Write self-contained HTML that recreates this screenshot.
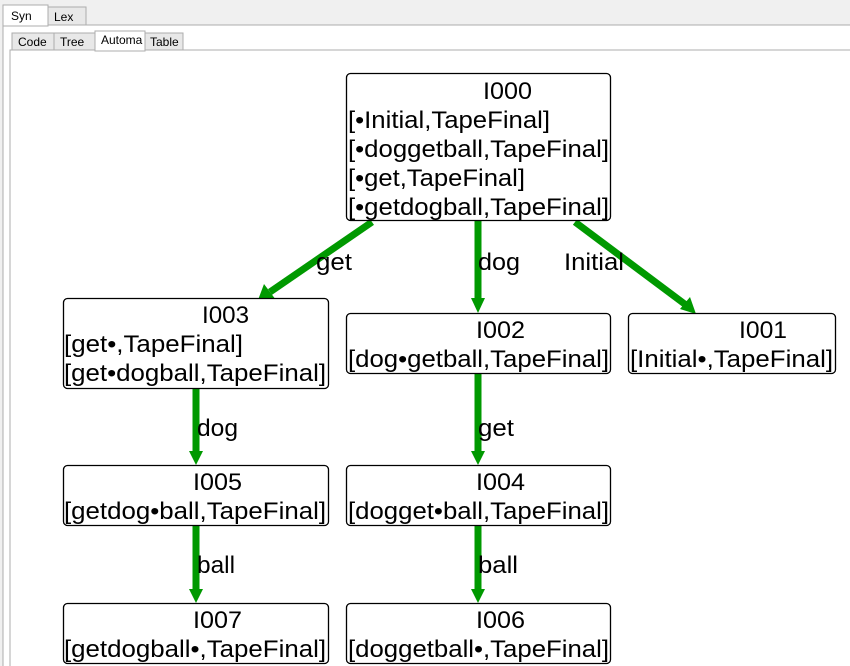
<!DOCTYPE html>
<html><head><style>
html,body{margin:0;padding:0;width:850px;height:666px;overflow:hidden;background:#f0f0f0;font-family:"Liberation Sans",sans-serif}
svg{display:block}
</style></head><body>
<svg width="850" height="666" xmlns="http://www.w3.org/2000/svg" font-family="Liberation Sans, sans-serif">
<rect x="0" y="0" width="850" height="666" fill="#f0f0f0"/>
<rect x="3" y="25" width="850" height="660" fill="#fff" stroke="#adadad"/>
<rect x="48" y="7" width="38" height="18" fill="#e8e8e8" stroke="#adadad"/>
<rect x="3" y="5" width="45" height="21" fill="#fff" stroke="#adadad"/>
<line x1="4" y1="25" x2="47" y2="25" stroke="#fff"/>
<text x="11" y="20" font-size="12">Syn</text>
<text x="54" y="21" font-size="12">Lex</text>
<rect x="10" y="50" width="850" height="630" fill="#fff" stroke="#adadad"/>
<rect x="12" y="33" width="42" height="17" fill="#e8e8e8" stroke="#adadad"/>
<rect x="54" y="33" width="41" height="17" fill="#e8e8e8" stroke="#adadad"/>
<rect x="145" y="33" width="38" height="17" fill="#e8e8e8" stroke="#adadad"/>
<rect x="95" y="31" width="50" height="20" fill="#fff" stroke="#adadad"/>
<line x1="96" y1="50" x2="144" y2="50" stroke="#fff"/>
<text x="18" y="46" font-size="12">Code</text>
<text x="60" y="46" font-size="12">Tree</text>
<text x="101" y="44" font-size="12">Automa</text>
<text x="150" y="46" font-size="12">Table</text>

<g stroke="#009900" stroke-width="7" fill="none">
<line x1="372" y1="222" x2="270" y2="292"/>
<line x1="478" y1="220" x2="478" y2="300"/>
<line x1="575" y1="222" x2="686" y2="305"/>
<line x1="196" y1="388" x2="196" y2="452"/>
<line x1="478" y1="373" x2="478" y2="452"/>
<line x1="196" y1="525" x2="196" y2="590"/>
<line x1="478" y1="525" x2="478" y2="590"/>
</g>
<g fill="#009900">
<polygon points="258,300 264,284 276,300"/>
<polygon points="471,298 485,298 478,313"/>
<polygon points="696,314 680,309 690,297"/>
<polygon points="189,451 203,451 196,465"/>
<polygon points="471,451 485,451 478,465"/>
<polygon points="189,589 203,589 196,603"/>
<polygon points="471,589 485,589 478,603"/>
</g>
<g font-size="24" fill="#000" lengthAdjust="spacingAndGlyphs">
<text x="316" y="270" textLength="36" lengthAdjust="spacingAndGlyphs">get</text>
<text x="478" y="270" textLength="42" lengthAdjust="spacingAndGlyphs">dog</text>
<text x="564" y="270" textLength="60" lengthAdjust="spacingAndGlyphs">Initial</text>
<text x="197" y="436" textLength="41" lengthAdjust="spacingAndGlyphs">dog</text>
<text x="478" y="436" textLength="36" lengthAdjust="spacingAndGlyphs">get</text>
<text x="197" y="573" textLength="38" lengthAdjust="spacingAndGlyphs">ball</text>
<text x="478" y="573" textLength="40" lengthAdjust="spacingAndGlyphs">ball</text>
</g>
<g fill="#fff" stroke="#000" stroke-width="1.3">
<rect x="346.5" y="73.5" width="264" height="147" rx="4"/>
<rect x="63.5" y="298.5" width="265" height="90" rx="4"/>
<rect x="346.5" y="313.5" width="264" height="60" rx="4"/>
<rect x="628.5" y="313.5" width="207" height="60" rx="4"/>
<rect x="63.5" y="465.5" width="265" height="60" rx="4"/>
<rect x="346.5" y="465.5" width="264" height="60" rx="4"/>
<rect x="63.5" y="603.5" width="265" height="60" rx="4"/>
<rect x="346.5" y="603.5" width="264" height="60" rx="4"/>
</g>
<g font-size="24" fill="#000">
<text x="483" y="99" textLength="49" lengthAdjust="spacingAndGlyphs">I000</text>
<text x="348" y="128" textLength="202" lengthAdjust="spacingAndGlyphs">[•Initial,TapeFinal]</text>
<text x="348" y="157" textLength="261" lengthAdjust="spacingAndGlyphs">[•doggetball,TapeFinal]</text>
<text x="348" y="186" textLength="177" lengthAdjust="spacingAndGlyphs">[•get,TapeFinal]</text>
<text x="348" y="215" textLength="261" lengthAdjust="spacingAndGlyphs">[•getdogball,TapeFinal]</text>
<text x="202" y="323" textLength="47" lengthAdjust="spacingAndGlyphs">I003</text>
<text x="64" y="352" textLength="179" lengthAdjust="spacingAndGlyphs">[get•,TapeFinal]</text>
<text x="64" y="381" textLength="262" lengthAdjust="spacingAndGlyphs">[get•dogball,TapeFinal]</text>
<text x="476" y="338" textLength="49" lengthAdjust="spacingAndGlyphs">I002</text>
<text x="348" y="367" textLength="261" lengthAdjust="spacingAndGlyphs">[dog•getball,TapeFinal]</text>
<text x="739" y="338" textLength="48" lengthAdjust="spacingAndGlyphs">I001</text>
<text x="630" y="367" textLength="203" lengthAdjust="spacingAndGlyphs">[Initial•,TapeFinal]</text>
<text x="193" y="490" textLength="49" lengthAdjust="spacingAndGlyphs">I005</text>
<text x="64" y="519" textLength="262" lengthAdjust="spacingAndGlyphs">[getdog•ball,TapeFinal]</text>
<text x="476" y="490" textLength="49" lengthAdjust="spacingAndGlyphs">I004</text>
<text x="348" y="519" textLength="261" lengthAdjust="spacingAndGlyphs">[dogget•ball,TapeFinal]</text>
<text x="193" y="628" textLength="49" lengthAdjust="spacingAndGlyphs">I007</text>
<text x="64" y="657" textLength="262" lengthAdjust="spacingAndGlyphs">[getdogball•,TapeFinal]</text>
<text x="476" y="628" textLength="49" lengthAdjust="spacingAndGlyphs">I006</text>
<text x="348" y="657" textLength="261" lengthAdjust="spacingAndGlyphs">[doggetball•,TapeFinal]</text>
</g>
</svg>
</body></html>
